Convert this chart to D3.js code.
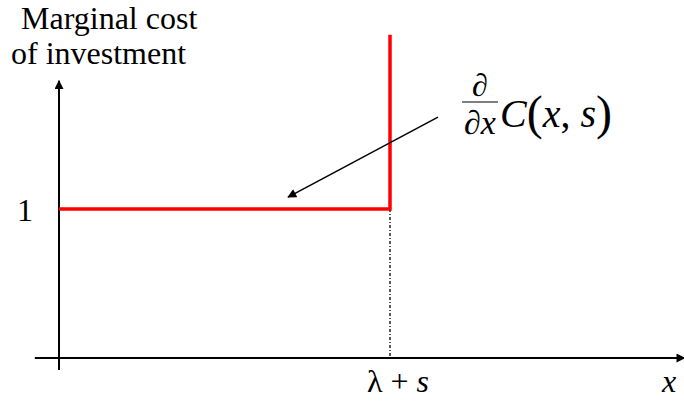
<!DOCTYPE html>
<html>
<head>
<meta charset="utf-8">
<script src="https://cdn.jsdelivr.net/npm/d3@7"></script>
<style>
  body { margin: 0; background: #fff; }
</style>
</head>
<body>
<div id="vis"></div>
<script>
// chart values (data units: kink at λ + s = 1, flat marginal cost = 1)
const kink = 1;
const curveX = [0, kink, kink];
const curveY = [1, 1, 2.17];
const xAxisExtent = [-0.073, 1.89];
const yAxisExtent = [-0.08, 1.86];
const yTicks = [1];
const yTickLabels = ["1"];
const xTicks = [kink];
const xTickLabels = ["λ + s"];
const pointerFrom = [1.145, 1.617];
const pointerTo = [0.692, 1.08];

const width = 684, height = 402;
const red = "#ff0000";
const serif = "'Liberation Serif'";

const x = d3.scaleLinear().domain([0, 1]).range([59, 390]);
const y = d3.scaleLinear().domain([0, 1]).range([358, 209]);

const svg = d3.select("#vis").append("svg")
  .attr("width", width)
  .attr("height", height);

// arrow heads
const defs = svg.append("defs");
defs.append("marker")
  .attr("id", "head")
  .attr("viewBox", "0 0 10 10")
  .attr("refX", 9).attr("refY", 5)
  .attr("markerUnits", "userSpaceOnUse")
  .attr("markerWidth", 12).attr("markerHeight", 9)
  .attr("orient", "auto")
  .append("path").attr("d", "M0,0L10,5L0,10Z").attr("fill", "#000");

// axes
svg.append("line")
  .attr("x1", x(xAxisExtent[0])).attr("y1", y(0))
  .attr("x2", x(xAxisExtent[1])).attr("y2", y(0))
  .attr("stroke", "#000").attr("stroke-width", 2)
  .attr("marker-end", "url(#head)");

svg.append("line")
  .attr("x1", x(0)).attr("y1", y(yAxisExtent[0]))
  .attr("x2", x(0)).attr("y2", y(yAxisExtent[1]))
  .attr("stroke", "#000").attr("stroke-width", 2)
  .attr("marker-end", "url(#head)");

// dotted drop line from the kink
svg.append("line")
  .attr("x1", x(kink)).attr("y1", y(1))
  .attr("x2", x(kink)).attr("y2", y(0))
  .attr("stroke", "#000").attr("stroke-width", 1.3)
  .attr("stroke-dasharray", "3,2,1,2");

// marginal cost curve
const pts = curveX.map((d, i) => [x(d), y(curveY[i])]);
svg.append("path")
  .attr("d", d3.line()(pts))
  .attr("fill", "none")
  .attr("stroke", red)
  .attr("stroke-width", 3.5);

// tick labels
svg.selectAll(".ytl")
  .data(yTicks)
  .enter().append("text")
  .attr("class", "ytl")
  .attr("x", x(0) - 26).attr("y", d => y(d) + 12)
  .attr("text-anchor", "end")
  .style("font-family", serif)
  .style("font-size", "32px")
  .text((d, i) => yTickLabels[i]);

const xl = svg.selectAll(".xtl")
  .data(xTicks)
  .enter().append("text")
  .attr("class", "xtl")
  .attr("x", d => x(d) + 8).attr("y", 392)
  .attr("text-anchor", "middle")
  .style("font-family", serif)
  .style("font-size", "32px");
xl.append("tspan").text("λ + ");
xl.append("tspan").style("font-style", "italic").text("s");

// axis titles
svg.append("text")
  .attr("x", 669).attr("y", 392)
  .attr("text-anchor", "middle")
  .style("font-family", serif)
  .style("font-size", "32px")
  .style("font-style", "italic")
  .text("x");

const yt = svg.append("text")
  .style("font-family", serif)
  .style("font-size", "32px");
yt.append("tspan").attr("x", 21).attr("y", 29).text("Marginal cost");
yt.append("tspan").attr("x", 11).attr("y", 64).text("of investment");

// pointer arrow
svg.append("line")
  .attr("x1", x(pointerFrom[0])).attr("y1", y(pointerFrom[1]))
  .attr("x2", x(pointerTo[0])).attr("y2", y(pointerTo[1]))
  .attr("stroke", "#000").attr("stroke-width", 1.5)
  .attr("marker-end", "url(#head)");

// formula  ∂/∂x C(x, s)
const f = svg.append("g");
f.append("text")
  .attr("x", 480).attr("y", 96)
  .attr("text-anchor", "middle")
  .style("font-family", serif)
  .style("font-size", "32px")
  .style("font-style", "italic")
  .text("∂");
f.append("line")
  .attr("x1", 462).attr("x2", 498)
  .attr("y1", 102).attr("y2", 102)
  .attr("stroke", "#000").attr("stroke-width", 1.2);
f.append("text")
  .attr("x", 480).attr("y", 134)
  .attr("text-anchor", "middle")
  .style("font-family", serif)
  .style("font-size", "34px")
  .style("font-style", "italic")
  .text("∂x");
const ct = f.append("text")
  .attr("x", 500).attr("y", 127)
  .style("font-family", serif)
  .style("font-size", "40px");
ct.append("tspan").style("font-style", "italic").text("C");
ct.append("tspan").style("font-size", "48px").attr("dy", 2).text("(");
ct.append("tspan").style("font-style", "italic").attr("dy", -2).text("x");
ct.append("tspan").text(", ");
ct.append("tspan").style("font-style", "italic").text("s");
ct.append("tspan").style("font-size", "48px").attr("dy", 2).text(")");
</script>
</body>
</html>
